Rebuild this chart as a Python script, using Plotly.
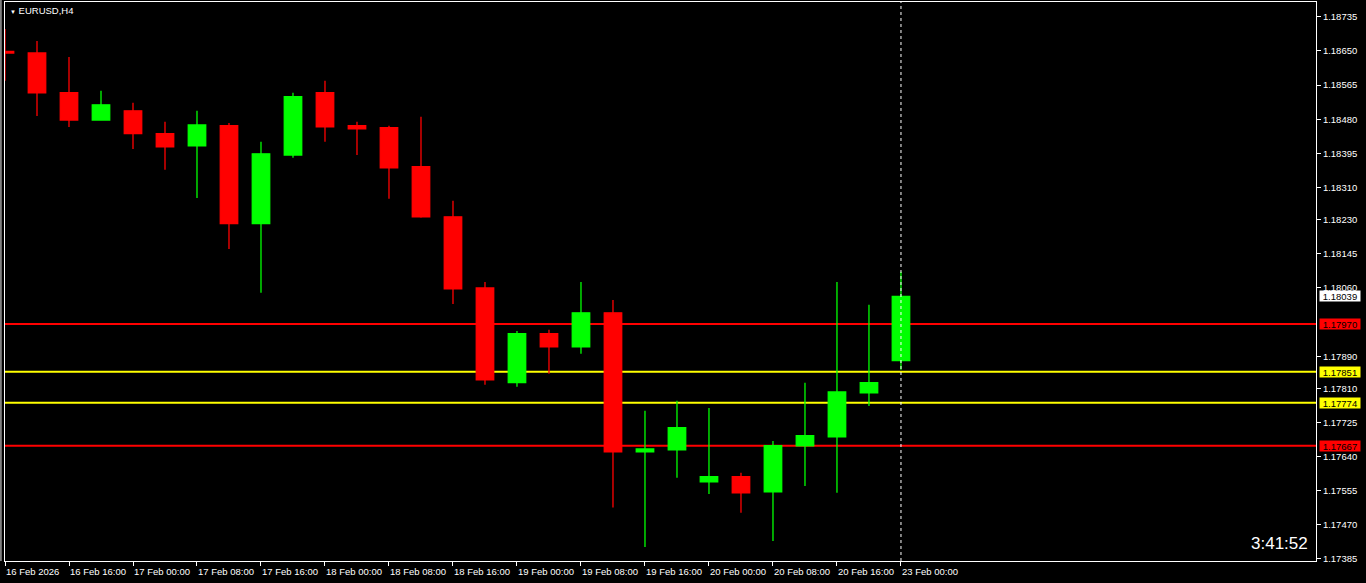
import plotly.graph_objects as go

# EURUSD H4 candles
times = [
    "16 Feb 08:00", "16 Feb 12:00", "16 Feb 16:00", "16 Feb 20:00",
    "17 Feb 00:00", "17 Feb 04:00", "17 Feb 08:00", "17 Feb 12:00", "17 Feb 16:00", "17 Feb 20:00",
    "18 Feb 00:00", "18 Feb 04:00", "18 Feb 08:00", "18 Feb 12:00", "18 Feb 16:00", "18 Feb 20:00",
    "19 Feb 00:00", "19 Feb 04:00", "19 Feb 08:00", "19 Feb 12:00", "19 Feb 16:00", "19 Feb 20:00",
    "20 Feb 00:00", "20 Feb 04:00", "20 Feb 08:00", "20 Feb 12:00", "20 Feb 16:00", "20 Feb 20:00",
    "23 Feb 00:00",
]
opens = [1.18649, 1.18645, 1.18546, 1.18478, 1.18501, 1.18444, 1.18414, 1.18464, 1.18220, 1.18391,
         1.18546, 1.18464, 1.18459, 1.18362, 1.18237, 1.18060, 1.17824, 1.17946, 1.17913, 1.17998,
         1.17652, 1.17657, 1.17577, 1.17590, 1.17552, 1.17667, 1.17689, 1.17799, 1.17879]
highs = [1.18705, 1.18675, 1.18635, 1.18551, 1.18521, 1.18474, 1.18501, 1.18471, 1.18424, 1.18546,
         1.18576, 1.18474, 1.18464, 1.18486, 1.18277, 1.18075, 1.17953, 1.17956, 1.18075, 1.18030,
         1.17754, 1.17779, 1.17761, 1.17600, 1.17679, 1.17824, 1.18075, 1.18018, 1.18100]
lows = [1.18576, 1.18488, 1.18461, 1.18477, 1.18406, 1.18354, 1.18284, 1.18157, 1.18048, 1.18384,
        1.18424, 1.18391, 1.18282, 1.18235, 1.18020, 1.17819, 1.17814, 1.17846, 1.17896, 1.17513,
        1.17415, 1.17587, 1.17547, 1.17500, 1.17430, 1.17567, 1.17550, 1.17766, 1.17856]
closes = [1.18645, 1.18546, 1.18478, 1.18516, 1.18444, 1.18411, 1.18466, 1.18220, 1.18394, 1.18536,
          1.18461, 1.18456, 1.18359, 1.18237, 1.18058, 1.17831, 1.17946, 1.17913, 1.17998, 1.17652,
          1.17659, 1.17712, 1.17590, 1.17550, 1.17667, 1.17692, 1.17801, 1.17824, 1.18039]

# horizontal levels and current bid
red_levels = [1.17970, 1.17667]
yellow_levels = [1.17851, 1.17774]
bid = 1.18039

price_ticks = [1.18735, 1.18650, 1.18565, 1.18480, 1.18395, 1.18310, 1.18230, 1.18145,
               1.18060, 1.17890, 1.17810, 1.17725, 1.17640, 1.17555, 1.17470, 1.17385]
time_ticks = times[::2]
time_labels = ["16 Feb 2026", "16 Feb 16:00", "17 Feb 00:00", "17 Feb 08:00", "17 Feb 16:00",
               "18 Feb 00:00", "18 Feb 08:00", "18 Feb 16:00", "19 Feb 00:00", "19 Feb 08:00",
               "19 Feb 16:00", "20 Feb 00:00", "20 Feb 08:00", "20 Feb 16:00", "23 Feb 00:00"]

FONT = "Liberation Sans"
FS = 9.5

fig = go.Figure(
    go.Candlestick(
        x=times, open=opens, high=highs, low=lows, close=closes,
        increasing=dict(line=dict(color="#00FF00", width=1.3), fillcolor="#00FF00"),
        decreasing=dict(line=dict(color="#FF0000", width=1.3), fillcolor="#FF0000"),
        whiskerwidth=0,
        showlegend=False,
    )
)

for lvl in red_levels:
    fig.add_hline(y=lvl, line=dict(color="#FF0000", width=2), layer="below")
for lvl in yellow_levels:
    fig.add_hline(y=lvl, line=dict(color="#FFFF00", width=2), layer="below")

# current bar marker
fig.add_shape(type="line", xref="x", yref="paper", x0=times[-1], x1=times[-1], y0=0, y1=1,
              line=dict(color="white", width=1, dash="3px,3px"))

# window border on the far left
fig.add_shape(type="line", xref="paper", yref="paper", x0=-0.0032, x1=-0.0032, y0=0, y1=1.01,
              line=dict(color="#808080", width=2))

# price boxes on the right axis
for val, col in [(bid, "white")] + [(v, "#FF0000") for v in red_levels] + [(v, "#FFFF00") for v in yellow_levels]:
    fig.add_annotation(x=1, xref="paper", y=val, yref="y", xanchor="left", xshift=3,
                       text=f"{val:.5f}", showarrow=False, bgcolor=col, width=40, height=10,
                       borderpad=0, font=dict(family=FONT, size=FS, color="black"))

# time labels, left aligned on their ticks
for t, lab in zip(time_ticks, time_labels):
    fig.add_annotation(x=t, xref="x", y=0, yref="paper", xanchor="left", yanchor="top",
                       yshift=-3, xshift=-1, text=lab, showarrow=False,
                       font=dict(family=FONT, size=FS, color="white"))

fig.add_annotation(x=0, xref="paper", y=1, yref="paper", xanchor="left", yanchor="top",
                   xshift=3, yshift=-1, showarrow=False,
                   text="<span style='font-size:6px'>▼</span> EURUSD,H4",
                   font=dict(family=FONT, size=FS, color="white"))
fig.add_annotation(x=1, xref="paper", y=0, yref="paper", xanchor="right", yanchor="bottom",
                   xshift=-6, yshift=6, showarrow=False, text="3:41:52",
                   font=dict(family=FONT, size=17, color="white"))

fig.update_xaxes(
    type="category", range=[0, 40.97], rangeslider_visible=False,
    showgrid=False, zeroline=False, showline=True, mirror=True, linecolor="white", linewidth=1,
    tickvals=time_ticks, ticktext=[""] * len(time_ticks), ticks="outside", ticklen=4,
    tickcolor="white",
)
fig.update_yaxes(
    side="right", range=[1.17380, 1.18772], showgrid=False, zeroline=False,
    showline=True, mirror=True, linecolor="white", linewidth=1,
    tickvals=price_ticks, ticktext=[f"{v:.5f}" for v in price_ticks],
    ticks="outside", ticklen=4, tickcolor="white",
    tickfont=dict(family=FONT, size=FS, color="white"),
)
fig.update_layout(
    width=1366, height=583,
    margin=dict(l=5, r=50, t=2, b=22, autoexpand=False),
    paper_bgcolor="black", plot_bgcolor="black",
    boxgap=0.22, hovermode=False,
)

fig.write_html(
    "out.html",
    config={"displayModeBar": False},
    post_script="document.body.style.margin='0';document.body.style.background='black';",
)
